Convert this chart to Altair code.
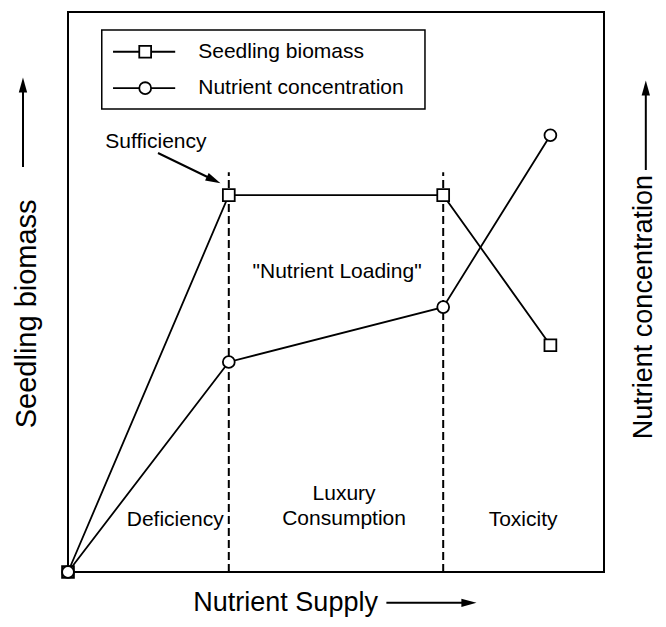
import altair as alt
import pandas as pd

# ---- data (arbitrary 0-100 units) ----
supply = [0, 30, 70, 90]
biomass = [0, 67.3, 67.3, 40.5]
concentration = [0, 37.5, 47.3, 78.0]
series = ["Seedling biomass", "Nutrient concentration"]
shapes = ["square", "circle"]

zone_bounds = [30, 70]
zone_top = 71.4

zone_labels = ["Deficiency", "Luxury", "Consumption", "Toxicity", '"Nutrient Loading"', "Sufficiency"]
zone_label_x = [20.0, 51.5, 51.5, 84.9, 50.2, 16.4]
zone_label_y = [9.3, 13.9, 9.5, 9.3, 53.6, 76.8]

legend_row_y = [92.9, 86.4]

FONT = "Liberation Sans"

pts = pd.DataFrame(
    [{"x": sx, "y": v, "series": series[0]} for sx, v in zip(supply, biomass)]
    + [{"x": sx, "y": v, "series": series[1]} for sx, v in zip(supply, concentration)]
)

sx = alt.Scale(domain=[0, 100], nice=False, zero=False)
sy = alt.Scale(domain=[0, 100], nice=False, zero=False)


def X(f="x"):
    return alt.X(f"{f}:Q", scale=sx, axis=None)


def Y(f="y"):
    return alt.Y(f"{f}:Q", scale=sy, axis=None)


shape_enc = alt.Shape("series:N", scale=alt.Scale(domain=series, range=shapes), legend=None)

# dashed zone boundaries
zones = pd.DataFrame({"x": zone_bounds, "y": [0] * 2, "y2": [zone_top] * 2})
zone_rules = alt.Chart(zones).mark_rule(color="black", strokeWidth=2, strokeDash=[8, 4]).encode(
    x=X(), y=Y(), y2="y2:Q"
)

lines = alt.Chart(pts).mark_line(color="black", strokeWidth=1.8).encode(
    x=X(), y=Y(), detail="series:N", order="x:Q"
)
markers = alt.Chart(pts).mark_point(
    filled=True, fill="white", stroke="black", strokeWidth=1.8, size=140, opacity=1
).encode(x=X(), y=Y(), shape=shape_enc)

# legend box
box = pd.DataFrame({"x": [6.3], "x2": [66.6], "y": [82.7], "y2": [96.8]})
legend_box = alt.Chart(box).mark_rect(fill="white", stroke="black", strokeWidth=1.5).encode(
    x=X(), x2="x2:Q", y=Y(), y2="y2:Q"
)
leg_lines = pd.DataFrame({"x": [8.4, 8.4], "x2": [20.0, 20.0], "y": legend_row_y, "series": series})
legend_lines = alt.Chart(leg_lines).mark_rule(color="black", strokeWidth=1.8).encode(
    x=X(), x2="x2:Q", y=Y()
)
leg_pts = pd.DataFrame({"x": [14.4, 14.4], "y": legend_row_y, "series": series})
legend_marks = alt.Chart(leg_pts).mark_point(
    filled=True, fill="white", stroke="black", strokeWidth=1.8, size=140, opacity=1
).encode(x=X(), y=Y(), shape=shape_enc)
leg_txt = pd.DataFrame({"x": [24.3, 24.3], "y": legend_row_y, "t": series})
legend_text = alt.Chart(leg_txt).mark_text(
    align="left", baseline="middle", font=FONT, fontSize=21, color="black"
).encode(x=X(), y=Y(), text="t:N")

# annotations
ann = pd.DataFrame({"x": zone_label_x, "y": zone_label_y, "t": zone_labels})
ann_text = alt.Chart(ann).mark_text(
    align="center", baseline="middle", font=FONT, fontSize=21, color="black"
).encode(x=X(), y=Y(), text="t:N")

# axis titles
htitle = pd.DataFrame({"x": [40.6], "y": [-5.5], "t": ["Nutrient Supply"]})
htitle_text = alt.Chart(htitle).mark_text(
    align="center", baseline="middle", font=FONT, fontSize=27, color="black"
).encode(x=X(), y=Y(), text="t:N")
ltitle = pd.DataFrame({"x": [-7.6], "y": [46.1], "t": ["Seedling biomass"]})
ltitle_text = alt.Chart(ltitle).mark_text(
    align="center", baseline="middle", font=FONT, fontSize=29, color="black", angle=270
).encode(x=X(), y=Y(), text="t:N")
rtitle = pd.DataFrame({"x": [107.4], "y": [47.3], "t": ["Nutrient concentration"]})
rtitle_text = alt.Chart(rtitle).mark_text(
    align="center", baseline="middle", font=FONT, fontSize=27, color="black", angle=270
).encode(x=X(), y=Y(), text="t:N")

# arrows: shafts and heads
shafts = pd.DataFrame({
    "x": [-8.40, 107.8, 59.4, 16.79],
    "y": [72.32, 71.79, -5.5, 74.82],
    "x2": [-8.40, 107.8, 74.8, 27.18],
    "y2": [86.96, 86.43, -5.5, 70.0],
})
arrow_shafts = alt.Chart(shafts).mark_rule(color="black", strokeWidth=2).encode(
    x=X(), y=Y(), x2="x2:Q", y2="y2:Q"
)
heads = pd.DataFrame({
    "x": [-8.40, 107.8, 74.8, 27.18],
    "y": [86.96, 86.43, -5.5, 70.0],
    "a": [0, 0, 90, 116],
})
arrow_heads = alt.Chart(heads).mark_point(
    shape="M0,-1L0.55,1L-0.55,1Z", filled=True, color="black", size=230, opacity=1
).encode(x=X(), y=Y(), angle=alt.Angle("a:Q", scale=None))

chart = alt.layer(
    zone_rules, lines, markers, legend_box, legend_lines, legend_marks, legend_text,
    ann_text, htitle_text, ltitle_text, rtitle_text, arrow_shafts, arrow_heads,
).properties(
    width=536,
    height=560,
    autosize=alt.AutoSizeParams(type="none"),
    padding={"left": 60, "top": 4, "right": 54, "bottom": 47},
    background="white",
).configure_view(stroke="black", strokeWidth=2)

chart.save("out.html", embed_options={"renderer": "svg", "actions": False})
